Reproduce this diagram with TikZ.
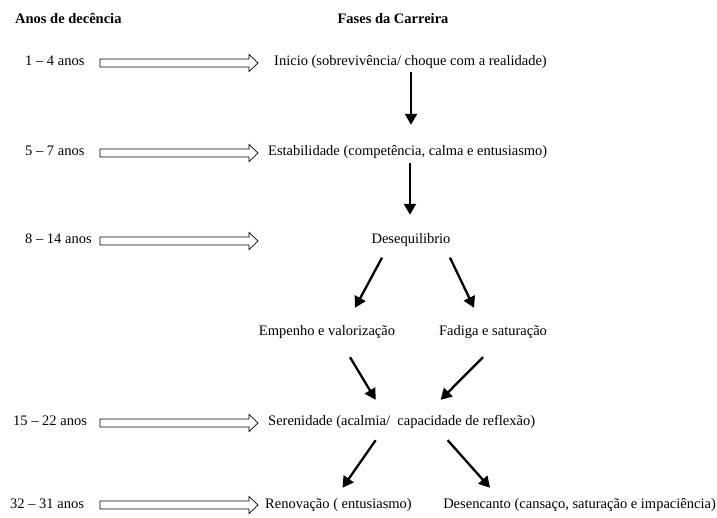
\documentclass[tikz,border=0pt]{standalone}
\usepackage{fontspec}
\setmainfont{Liberation Serif}
\usetikzlibrary{arrows.meta}
\newcommand\hollowarrow[2]{%
  \draw[hollow] ([yshift=4]#1) -- ([xshift=-9,yshift=4]#2) -- ([xshift=-9,yshift=8.5]#2) -- (#2)
    -- ([xshift=-9,yshift=-8.5]#2) -- ([xshift=-9,yshift=-4]#2) -- ([yshift=-4]#1) -- cycle;}
\begin{document}
\begin{tikzpicture}[x=1pt,y=-1pt,
  txt/.style={inner sep=0pt,text height=10pt,text depth=3pt,font=\fontsize{14.5}{16}\selectfont},
  hdr/.style={inner sep=0pt,text height=10pt,text depth=3pt,font=\fontsize{14.5}{16}\selectfont\bfseries},
  blk/.style={line width=2.3pt,-{Triangle[length=11pt,width=12pt]}},
  hollow/.style={draw=black,line width=0.7pt,fill=white,line join=miter}]
\useasboundingbox[fill=white] (0,0) rectangle (717,518);

% headers
\node[hdr,anchor=west] (h1) at (15,20) {Anos de decência};
\node[hdr] (h2) at (393,20) {Fases da Carreira};

% year labels
\node[txt,anchor=west] (y1) at (25,62) {1 – 4 anos};
\node[txt,anchor=west] (y2) at (25,152) {5 – 7 anos};
\node[txt,anchor=west] (y3) at (25,240) {8 – 14 anos};
\node[txt,anchor=west] (y5) at (13,422) {15 – 22 anos};
\node[txt,anchor=west] (y6) at (10,505) {32 – 31 anos};

% phases
\node[txt,anchor=west] (p1) at (274,62) {Inicio (sobrevivência/ choque com a realidade)};
\node[txt,anchor=west] (p2) at (268,152) {Estabilidade (competência, calma e entusiasmo)};
\node[txt] (p3) at (411,240) {Desequilibrio};
\node[txt] (p4a) at (327,332) {Empenho e valorização};
\node[txt] (p4b) at (493,332) {Fadiga e saturação};
\node[txt,anchor=west] (p5) at (268,422) {Serenidade (acalmia/\ \ capacidade de reflexão)};
\node[txt,anchor=west] (p6a) at (265,505) {Renovação ( entusiasmo)};
\node[txt,anchor=east] (p6b) at (716,505) {Desencanto (cansaço, saturação e impaciência)};

% hollow arrow end points
\coordinate (s1) at (100,63);  \coordinate (e1) at (258,63);
\coordinate (s2) at (100,153); \coordinate (e2) at (258,153);
\coordinate (s3) at (100,241); \coordinate (e3) at (258,241);
\coordinate (s5) at (100,423); \coordinate (e5) at (258,423);
\coordinate (s6) at (100,505); \coordinate (e6) at (258,505);
\hollowarrow{s1}{e1}
\hollowarrow{s2}{e2}
\hollowarrow{s3}{e3}
\hollowarrow{s5}{e5}
\hollowarrow{s6}{e6}

% black arrows
\draw[blk] ([yshift=-3.5]p1.south -| p3) -- ([yshift=20.5]p2.north -| p3);
\draw[blk] ([xshift=-1,yshift=-4.5]p2.south -| p3) -- ([xshift=-1,yshift=18.5]p3.north);
\draw[blk] ([xshift=-29,yshift=-11]p3.south) -- ([xshift=28,yshift=17.5]p4a.north);
\draw[blk] ([xshift=39,yshift=-11]p3.south) -- ([xshift=-19,yshift=17.5]p4b.north);
\draw[blk] ([xshift=23,yshift=-18.5]p4a.south) -- ([xshift=-26,yshift=15.5]p5.north);
\draw[blk] ([xshift=-10,yshift=-18.5]p4b.south) -- ([xshift=39,yshift=15.5]p5.north);
\draw[blk] ([xshift=-26,yshift=-11.5]p5.south) -- ([xshift=4,yshift=10.5]p6a.north);
\draw[blk] ([xshift=46,yshift=-11.5]p5.south) -- ([xshift=-89.5,yshift=10.5]p6b.north);
\end{tikzpicture}
\end{document}
